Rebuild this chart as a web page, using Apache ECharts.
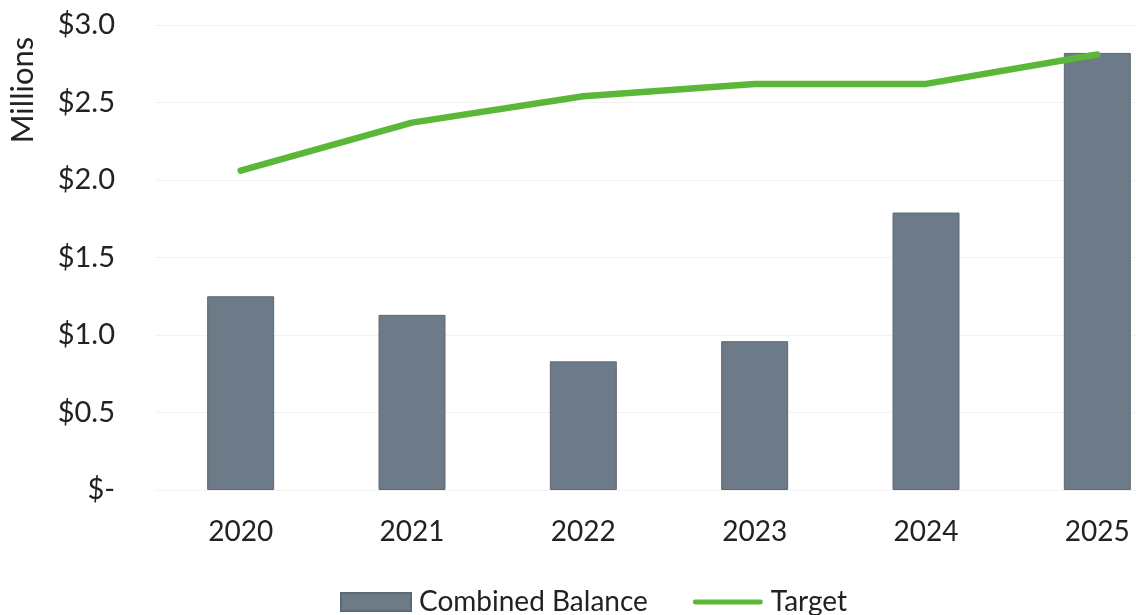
<!DOCTYPE html>
<html>
<head>
<meta charset="utf-8">
<script src="https://cdn.jsdelivr.net/npm/echarts@6/dist/echarts.min.js"></script>
<style>html,body{margin:0;padding:0;background:#fff;overflow:hidden;width:1136px;height:615px;}#wrap{width:1136px;height:615px;overflow:hidden;position:relative;}#c{width:1183px;height:615px;position:absolute;left:0;top:0;}</style>
</head>
<body>
<div id="wrap"><div id="c"></div></div>
<script>
const categories = ['2020', '2021', '2022', '2023', '2024', '2025'];
const combinedBalance = [1.25, 1.13, 0.83, 0.96, 1.79, 2.82];
const target = [2.06, 2.37, 2.54, 2.62, 2.62, 2.81];
const yTickLabels = ['$-', '$0.5', '$1.0', '$1.5', '$2.0', '$2.5', '$3.0'];
const yAxisTitle = 'Millions';
const seriesNames = ['Combined Balance', 'Target'];

const FONT = 'Lato';
const TEXT = '#222';
const chart = echarts.init(document.getElementById('c'));
chart.setOption({
  animation: false,
  textStyle: { fontFamily: FONT },
  grid: { left: 155, top: 25, right: 0, bottom: 125, containLabel: false },
  graphic: [{
    type: 'text', x: 23, y: 90, rotation: Math.PI / 2,
    style: { text: yAxisTitle, fontSize: 31, fontFamily: FONT, fill: TEXT, align: 'center', verticalAlign: 'middle' }
  }],
  legend: {
    left: 340, top: 588, padding: 0, itemGap: 45, itemWidth: 70, itemHeight: 18,
    textStyle: { fontSize: 28, color: TEXT, fontFamily: FONT, padding: [0, 0, 0, 3] },
    data: [
      { name: seriesNames[0], icon: 'rect' },
      { name: seriesNames[1], icon: 'path://M0,0L0,0M70,18L70,18M1,6.5L69,6.5A2.5,2.5,0,0,1,69,11.5L1,11.5A2.5,2.5,0,0,1,1,6.5Z', itemStyle: { color: '#5ab738' } }
    ]
  },
  xAxis: {
    type: 'category', data: categories,
    axisLine: { show: false }, axisTick: { show: false },
    axisLabel: { fontSize: 28, color: TEXT, margin: 28, fontFamily: FONT }
  },
  yAxis: {
    type: 'value', min: 0, max: 3, interval: 0.5,
    axisLine: { show: false }, axisTick: { show: false },
    splitLine: { lineStyle: { color: '#f2f2f2', width: 1 } },
    axisLabel: {
      fontSize: 29, color: TEXT, margin: 40, fontFamily: FONT,
      formatter: function (v) { return yTickLabels[Math.round(v / 0.5)]; }
    }
  },
  series: [
    {
      name: seriesNames[0], type: 'bar', data: combinedBalance, barWidth: 67,
      itemStyle: { color: '#6c7b87', borderColor: '#5f6874', borderWidth: 1 }
    },
    {
      name: seriesNames[1], type: 'line', data: target, symbol: 'none', showSymbol: false,
      lineStyle: { color: '#5ab738', width: 6.5, cap: 'round' }, itemStyle: { color: '#5ab738' }
    }
  ]
});
</script>
</body>
</html>
